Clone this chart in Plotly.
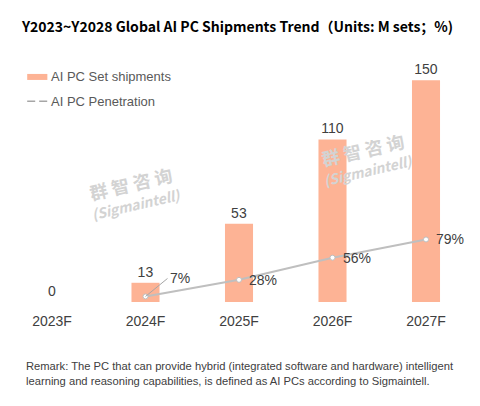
import plotly.graph_objects as go

years = ["2023F", "2024F", "2025F", "2026F", "2027F"]
shipments = [0, 13, 53, 110, 150]
penetration = [None, 7, 28, 56, 79]
pen_labels = ["", "7%", "28%", "56%", "79%"]

bar_color = "#FDB395"
line_color = "#BFBFBF"
text_color = "#404040"
font = "Arial, Liberation Sans, sans-serif"

fig = go.Figure()

# shipments bars with value labels on top
fig.add_trace(go.Bar(
    x=years,
    y=shipments,
    marker=dict(color=bar_color, line=dict(width=0)),
    text=[str(v) for v in shipments],
    textposition="outside",
    cliponaxis=False,
    textfont=dict(size=14, color=text_color, family=font),
    showlegend=False,
))

# penetration line on secondary axis
fig.add_trace(go.Scatter(
    x=years,
    y=penetration,
    mode="lines+markers",
    line=dict(color=line_color, width=2),
    marker=dict(color="white", size=5, line=dict(color=line_color, width=1)),
    yaxis="y2",
    showlegend=False,
))

annotations = []
for i, (yr, p, lab) in enumerate(zip(years, penetration, pen_labels)):
    if p is None:
        continue
    if i == 1:
        # first label sits off to the side with a leader line
        annotations.append(dict(
            x=yr, y=p, xref="x", yref="y2", text=lab,
            showarrow=True, arrowhead=0, arrowwidth=1, arrowcolor="#A6A6A6",
            ax=22, ay=-18, xanchor="left", yanchor="middle",
            font=dict(size=14, color=text_color, family=font),
        ))
    else:
        annotations.append(dict(
            x=yr, y=p, xref="x", yref="y2", text=lab,
            showarrow=False, xanchor="left", yanchor="middle", xshift=8,
            font=dict(size=14, color=text_color, family=font),
        ))

# watermarks
wm_text = ("<b><span style='font-size:18px'>群 智 咨 询</span></b><br>"
           "<b><i><span style='font-size:14px'>(Sigmaintell)</span></i></b>")
for wx, wy in [(0.26, 0.453), (0.744, 0.594)]:
    annotations.append(dict(
        x=wx, y=wy, xref="paper", yref="paper", text=wm_text,
        showarrow=False, textangle=-13, xanchor="center", yanchor="middle",
        font=dict(size=15, color="#D3D3D3", family="Noto Sans CJK SC"),
    ))

# legend (drawn by hand so the bar symbol is a wide strip)
annotations.append(dict(
    x=0.086, y=0.93, xref="paper", yref="paper", text="AI PC Set shipments",
    showarrow=False, xanchor="left", yanchor="middle",
    font=dict(size=13, color="#595959", family=font),
))
annotations.append(dict(
    x=0.086, y=0.83, xref="paper", yref="paper", text="AI PC Penetration",
    showarrow=False, xanchor="left", yanchor="middle",
    font=dict(size=13, color="#595959", family=font),
))

# remark
annotations.append(dict(
    x=0.033, y=-0.232, xref="paper", yref="paper",
    text="Remark: The PC that can provide hybrid (integrated software and hardware) intelligent<br>"
         "learning and reasoning capabilities, is defined as AI PCs according to Sigmaintell.",
    showarrow=False, xanchor="left", yanchor="top", align="left",
    font=dict(size=11.2, color=text_color, family=font),
))

shapes = [
    dict(type="line", xref="paper", yref="paper", x0=0.04, x1=0.082, y0=0.93, y1=0.93,
         line=dict(color=bar_color, width=6)),
    dict(type="line", xref="paper", yref="paper", x0=0.04, x1=0.082, y0=0.83, y1=0.83,
         line=dict(color="#A6A6A6", width=1.5, dash="8px,4px")),
]

fig.update_layout(
    width=480,
    height=406,
    margin=dict(l=0, r=0, t=52, b=112),
    paper_bgcolor="white",
    plot_bgcolor="white",
    title=dict(
        text="<b>Y2023~Y2028 Global AI PC Shipments Trend（Units: M sets；%)</b>",
        x=0.029, xanchor="left", y=0.953, yanchor="middle",
        font=dict(size=14, color="black", family="Noto Sans CJK SC"),
    ),
    bargap=0.7,
    xaxis=dict(
        range=[-0.4706, 4.663],
        showline=False, showgrid=False, zeroline=False,
        ticks="outside", ticklen=6, tickcolor="white",
        tickfont=dict(size=14, color=text_color, family=font),
    ),
    yaxis=dict(range=[0, 163.7], visible=False),
    yaxis2=dict(range=[0, 305.7], visible=False, overlaying="y", side="right"),
    annotations=annotations,
    shapes=shapes,
)

fig.write_html("out.html")
